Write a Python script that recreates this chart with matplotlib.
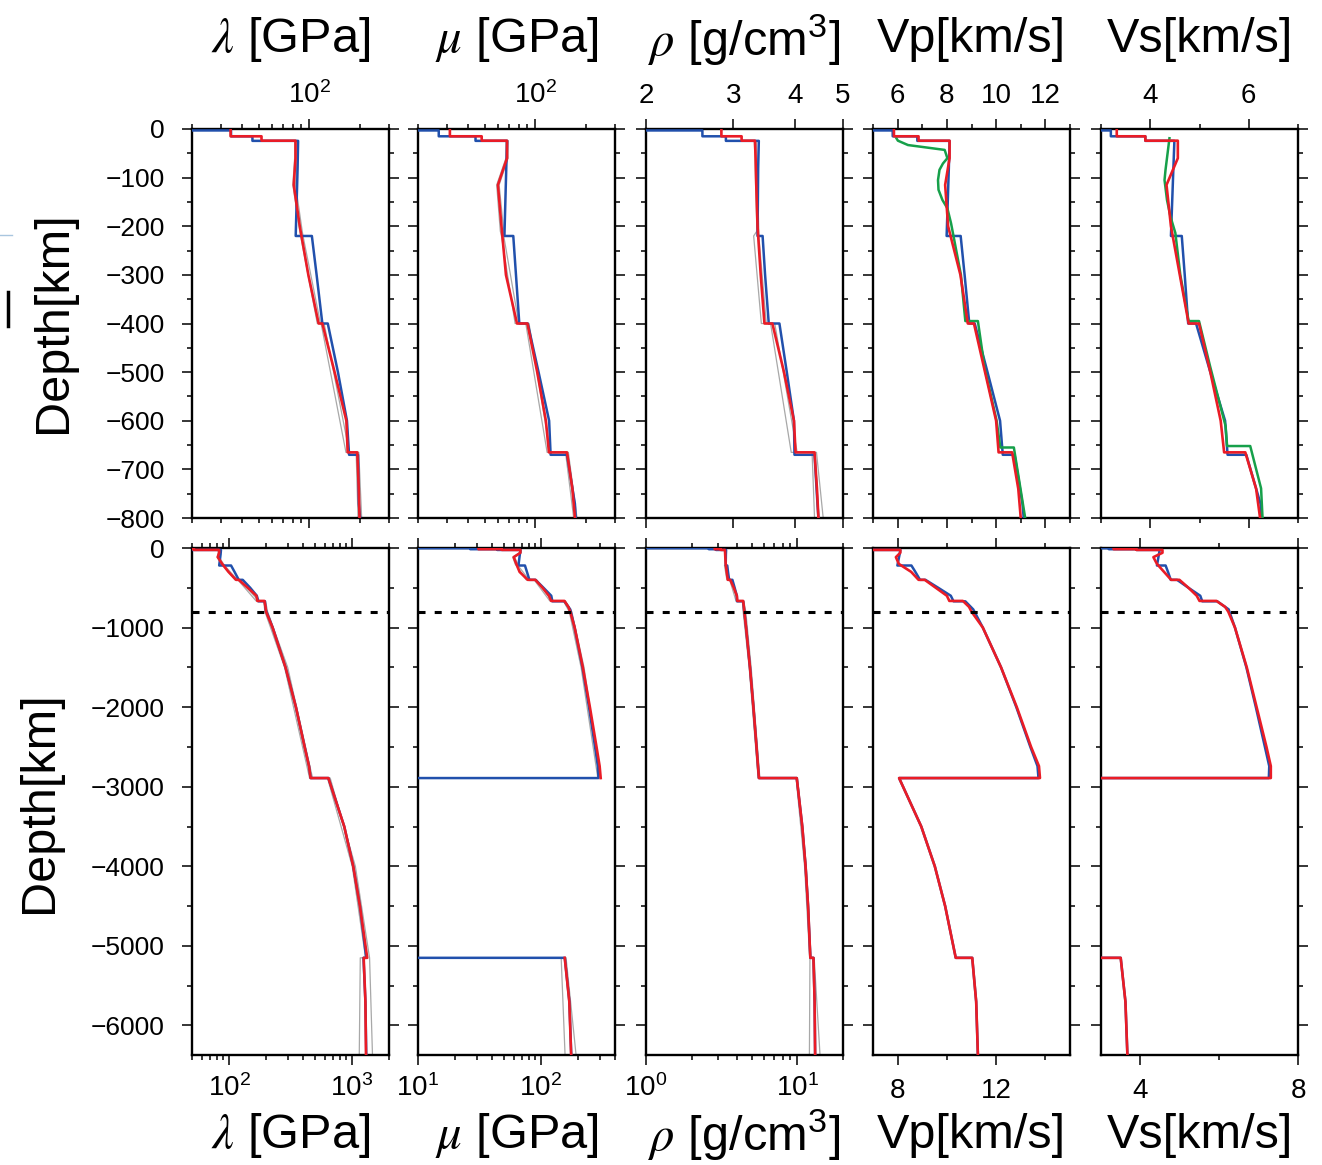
import matplotlib
matplotlib.use("Agg")
import matplotlib.pyplot as plt
from matplotlib.ticker import FixedLocator, FixedFormatter, NullFormatter
from matplotlib.lines import Line2D
import numpy as np

plt.rcParams['font.family'] = ['Liberation Sans', 'DejaVu Sans']
plt.rcParams['mathtext.fontset'] = 'stix'

nan = np.nan

# ---- blue model (stepwise, 220 km discontinuity) ----
blue_depth = [0, 3, 3, 15, 15, 24.4, 24.4, 80, 220, 220, 300, 400, 400, 500, 600, 670, 670, 771, 800,
              1000, 1500, 2000, 2500, 2741, 2891, 2891, 3500, 4000, 4500, 5150, 5150, 5700, 6371]
blue_rho = [1.02, 1.02, 2.60, 2.60, 2.90, 2.90, 3.38, 3.37, 3.36, 3.44, 3.48, 3.54, 3.72, 3.85, 3.98, 3.99, 4.38, 4.44, 4.46,
            4.58, 4.86, 5.12, 5.37, 5.49, 5.57, 9.90, 10.77, 11.32, 11.76, 12.17, 12.76, 12.99, 13.09]
blue_vp = [1.45, 1.45, 5.80, 5.80, 6.80, 6.80, 8.11, 8.08, 7.99, 8.56, 8.72, 8.91, 9.13, 9.65, 10.16, 10.27, 10.75, 11.07, 11.12,
           11.46, 12.20, 12.82, 13.39, 13.68, 13.72, 8.06, 8.96, 9.51, 9.93, 10.36, 11.03, 11.19, 11.26]
blue_vs = [0, 0, 3.20, 3.20, 3.90, 3.90, 4.49, 4.47, 4.42, 4.64, 4.70, 4.77, 4.93, 5.22, 5.52, 5.57, 5.95, 6.24, 6.26,
           6.40, 6.69, 6.93, 7.16, 7.27, 7.26, 0, 0, 0, 0, 0, 3.50, 3.62, 3.67]
blue_mu = [0.001, 0.001, 26.6, 26.6, 44.1, 44.1, 68.1, 67.3, 65.6, 74.1, 76.9, 80.5, 90.4, 104.9, 121.3, 123.8, 155.1, 172.9, 174.9,
           187.6, 217.5, 245.9, 275.3, 290.2, 293.6, 0.001, 0.001, 0.001, 0.001, 0.001, 156.3, 170.2, 176.3]
blue_lam = [2.1, 2.1, 34.2, 34.2, 45.9, 45.9, 86.0, 85.4, 83.2, 103.9, 110.9, 120.0, 129.3, 148.7, 168.3, 173.3, 196.0, 198.3, 201.7,
            226.3, 288.3, 349.7, 412.2, 447.1, 461.0, 643.1, 865.2, 1024.2, 1160.5, 1305.8, 1240.0, 1286.0, 1307.0]

# ---- red model ----
red_depth = [0, 15, 15, 24, 24, 60, 115, 200, 300, 400, 400, 500, 600, 665, 665, 740, 800,
             1000, 1500, 2000, 2500, 2741, 2891, 2891, 3500, 4000, 4500, 5150, 5150, 5700, 6371]
red_rho = [2.84, 2.84, 3.12, 3.12, 3.32, 3.33, 3.34, 3.36, 3.41, 3.47, 3.60, 3.80, 3.98, 4.01, 4.38, 4.43, 4.46,
           4.58, 4.86, 5.12, 5.37, 5.49, 5.57, 9.90, 10.77, 11.32, 11.76, 12.17, 12.76, 12.99, 13.09]
red_vp = [5.85, 5.85, 6.85, 6.85, 8.11, 8.11, 7.93, 8.05, 8.55, 8.85, 9.10, 9.55, 10.00, 10.10, 10.65, 10.90, 11.00,
          11.46, 12.20, 12.84, 13.42, 13.74, 13.78, 8.06, 8.96, 9.51, 9.93, 10.36, 11.03, 11.19, 11.26]
red_vs = [3.32, 3.32, 3.90, 3.90, 4.56, 4.56, 4.33, 4.42, 4.60, 4.78, 4.99, 5.22, 5.43, 5.50, 5.93, 6.15, 6.23,
          6.40, 6.70, 6.95, 7.20, 7.31, 7.31, 0, 0, 0, 0, 0, 3.50, 3.62, 3.67]
red_mu = [31, 31, 48, 48, 68, 68, 60, 63, 67, 78, 90, 103, 116, 121, 155, 167, 173,
          188, 219, 250, 283, 300, 306, nan, nan, nan, nan, nan, 156, 170, 176]
red_lam = [34, 34, 52, 52, 83, 83, 81, 88, 99, 114, 120, 142, 167, 170, 194, 198, 200,
           226, 288, 350, 412, 447, 461, 643, 865, 1024, 1160, 1330, 1245, 1286, 1300]

# ---- gray bounds (lambda, mu, rho only) ----
gray_depth = [24, 60, 115, 210, 220, 400, 400, 665, 665, 800, 1500, 2891, 2891, 4000, 5150, 5150, 6371]
gray_rho_lo = [3.31, 3.32, 3.33, 3.35, 3.30, 3.42, 3.57, 3.93, 4.33, 4.38, 4.80, 5.50, 9.80, 11.15, 12.05, 12.10, 12.00]
gray_rho_hi = [3.34, 3.35, 3.36, 3.38, 3.38, 3.50, 3.64, 4.04, 4.42, 4.56, 4.95, 5.65, 10.00, 11.45, 12.30, 12.90, 14.10]
gray_lam_lo = [82, 82, 80, 88, 89, 112, 118, 166, 191, 196, 283, 452, 632, 1005, 1290, 1168, 1146]
gray_lam_hi = [85, 85, 83, 91, 92, 117, 123, 174, 198, 206, 300, 478, 665, 1065, 1390, 1390, 1468]
gray_mu_lo = [67, 67, 59, 62, 63, 76, 88, 118, 152, 170, 212, 290, nan, nan, nan, 146, 157]
gray_mu_hi = [69, 69, 61, 65, 65, 80, 92, 123, 158, 178, 224, 304, nan, nan, nan, 160, 193]

# ---- green model (Vp, Vs, upper 800 km only) ----
green_vp_depth = [19, 24, 33, 43, 60, 71, 84, 105, 125, 146, 163, 194, 300, 395, 395, 490, 600, 655, 655, 800]
green_vp = [5.95, 6.01, 6.42, 7.91, 8.02, 7.84, 7.70, 7.64, 7.66, 7.82, 8.02, 8.17, 8.57, 8.75, 9.26, 9.53, 10.02, 10.17, 10.72, 11.18]
green_vs_depth = [19, 84, 105, 146, 180, 214, 300, 395, 395, 490, 611, 652, 652, 739, 800]
green_vs = [4.39, 4.31, 4.29, 4.34, 4.41, 4.51, 4.61, 4.78, 4.99, 5.22, 5.53, 5.56, 6.03, 6.25, 6.28]

# ---- labels and ticks ----
titles = [r'$\lambda$ [GPa]', r'$\mu$ [GPa]', r'$\rho$ [g/cm$^{\mathregular{3}}$]', 'Vp[km/s]', 'Vs[km/s]']
depth_label = 'Depth[km]'

top_xlim = [(20, 300), (20, 300), (2, 5), (5, 13), (3, 7)]
bot_xlim = [(50, 2000), (10, 400), (1, 20), (7, 15), (3, 8)]
is_log = [True, True, True, False, False]

top_major = [[100], [100], [2, 3, 4, 5], [6, 8, 10, 12], [4, 6]]
top_labels = [[r'$\mathregular{10^{2}}$'], [r'$\mathregular{10^{2}}$'], ['2', '3', '4', '5'],
              ['6', '8', '10', '12'], ['4', '6']]
top_minor = [[20, 30, 40, 50, 60, 70, 80, 90, 200, 300], [20, 30, 40, 50, 60, 70, 80, 90, 200, 300],
             [], [5, 7, 9, 11, 13], [3, 5, 7]]
bot_major = [[100, 1000], [10, 100], [1, 10], [8, 12], [4, 8]]
bot_labels = [[r'$\mathregular{10^{2}}$', r'$\mathregular{10^{3}}$'],
              [r'$\mathregular{10^{1}}$', r'$\mathregular{10^{2}}$'],
              [r'$\mathregular{10^{0}}$', r'$\mathregular{10^{1}}$'], ['8', '12'], ['4', '8']]
bot_minor = [[50, 60, 70, 80, 90, 200, 300, 400, 500, 600, 700, 800, 900, 2000],
             [20, 30, 40, 50, 60, 70, 80, 90, 200, 300, 400],
             [2, 3, 4, 5, 6, 7, 8, 9, 20], [10, 14], [6]]

top_ymajor = [0, -100, -200, -300, -400, -500, -600, -700, -800]
bot_ymajor = [0, -1000, -2000, -3000, -4000, -5000, -6000]

blue_vals = [blue_lam, blue_mu, blue_rho, blue_vp, blue_vs]
red_vals = [red_lam, red_mu, red_rho, red_vp, red_vs]
gray_vals = [(gray_lam_lo, gray_lam_hi), (gray_mu_lo, gray_mu_hi), (gray_rho_lo, gray_rho_hi), None, None]
green_vals = [None, None, None, (green_vp_depth, green_vp), (green_vs_depth, green_vs)]

BLUE = '#2150ac'
RED = '#ea1c26'
GREEN = '#16a04a'
GRAY = '#a8a8a8'

W, H = 1322, 1165
fig = plt.figure(figsize=(W / 100, H / 100), dpi=100)

col_left = [192, 418, 646, 873, 1101]
col_w = 197
rows = [(129, 518), (548, 1055)]

for r, (ytop, ybot) in enumerate(rows):
    for c in range(5):
        ax = fig.add_axes([col_left[c] / W, 1 - ybot / H, col_w / W, (ybot - ytop) / H])
        if is_log[c]:
            ax.set_xscale('log')

        g = gray_vals[c]
        if g is not None:
            for gv in g:
                ax.plot(gv, [-d for d in gray_depth], color=GRAY, lw=0.9, zorder=2)
        ax.plot(blue_vals[c], [-d for d in blue_depth], color=BLUE, lw=1.8, zorder=3)
        if r == 0 and green_vals[c] is not None:
            gd, gv = green_vals[c]
            ax.plot(gv, [-d for d in gd], color=GREEN, lw=1.8, zorder=4)
        ax.plot(red_vals[c], [-d for d in red_depth], color=RED, lw=1.9, zorder=5)

        if r == 1:
            ax.axhline(-800, color='black', lw=2.2, ls=(0, (2.3, 3.0)), zorder=6)

        if r == 0:
            ax.set_xlim(*top_xlim[c])
            ax.set_ylim(-800, 0)
            ax.xaxis.set_major_locator(FixedLocator(top_major[c]))
            ax.xaxis.set_major_formatter(FixedFormatter(top_labels[c]))
            ax.xaxis.set_minor_locator(FixedLocator(top_minor[c]))
            ax.yaxis.set_major_locator(FixedLocator(top_ymajor))
            ax.yaxis.set_minor_locator(FixedLocator(list(range(-750, 0, 100))))
        else:
            ax.set_xlim(*bot_xlim[c])
            ax.set_ylim(-6371, 0)
            ax.xaxis.set_major_locator(FixedLocator(bot_major[c]))
            ax.xaxis.set_major_formatter(FixedFormatter(bot_labels[c]))
            ax.xaxis.set_minor_locator(FixedLocator(bot_minor[c]))
            ax.yaxis.set_major_locator(FixedLocator(bot_ymajor))
            ax.yaxis.set_minor_locator(FixedLocator([-500, -1500, -2500, -3500, -4500, -5500]))
        ax.xaxis.set_minor_formatter(NullFormatter())
        ax.yaxis.set_major_formatter(FixedFormatter(
            ['0'] + ['\u2212' + str(-v) for v in (top_ymajor if r == 0 else bot_ymajor)[1:]]))

        ax.tick_params(which='both', direction='out', top=True, bottom=True, left=True, right=True,
                       width=1.1, labelsize=19, colors='black')
        ax.tick_params(which='major', length=7.5)
        ax.tick_params(which='minor', length=3.8)
        if r == 0:
            ax.tick_params(axis='x', labeltop=True, labelbottom=False, pad=7, labelsize=20)
        else:
            # superscript labels sit a little higher so their base lines up
            ax.tick_params(axis='x', labeltop=False, labelbottom=True,
                           pad=(6.5 if is_log[c] else 9), labelsize=20)
        ax.tick_params(axis='y', labelleft=(c == 0), pad=12)
        for s in ax.spines.values():
            s.set_linewidth(1.7)

# column titles (top and bottom)
for c in range(5):
    xc = (col_left[c] + col_w / 2) / W
    fig.text(xc, 1 - 40 / H, titles[c], fontsize=35, ha='center', va='center')
    fig.text(xc, 1 - 1135 / H, titles[c], fontsize=35, ha='center', va='center')

fig.text(54 / W, 1 - 322 / H, depth_label, fontsize=35, rotation=90, ha='center', va='center')
fig.text(40 / W, 1 - 802 / H, depth_label, fontsize=35, rotation=90, ha='center', va='center')

# small marks at the left edge of the original picture
fig.add_artist(Line2D([8 / W, 8 / W], [1 - 292 / H, 1 - 326 / H], color='black', lw=2.5))
fig.add_artist(Line2D([0, 12 / W], [1 - 235 / H, 1 - 235 / H], color='#a9c6df', lw=1))

fig.savefig('out.png', dpi=100)
